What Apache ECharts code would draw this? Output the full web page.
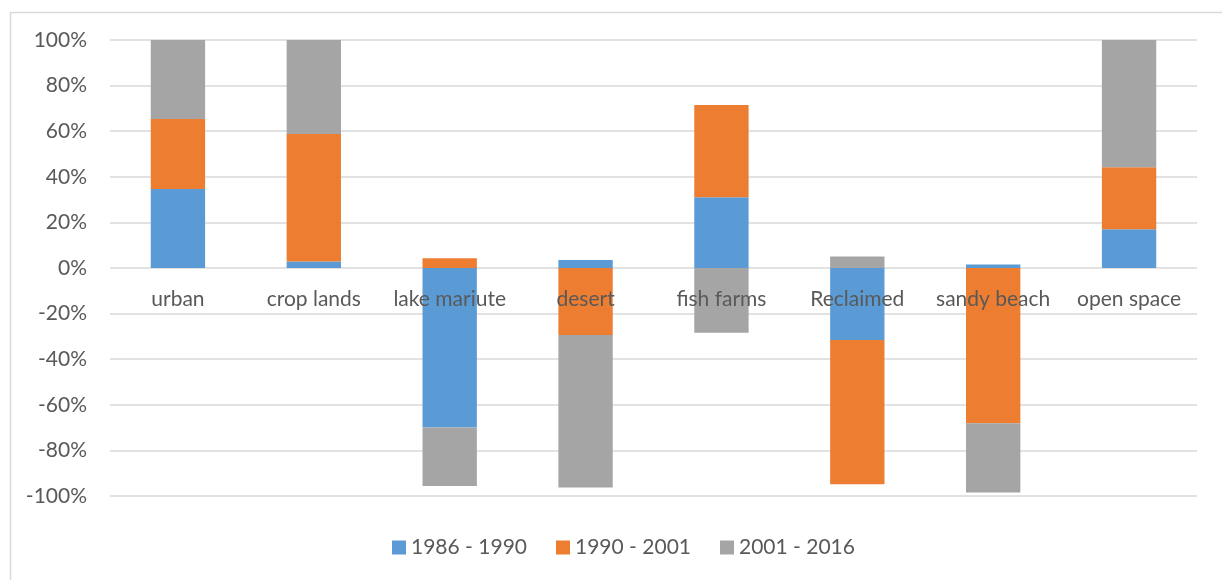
<!DOCTYPE html>
<html>
<head>
<meta charset="utf-8">
<script src="https://cdn.jsdelivr.net/npm/echarts@6/dist/echarts.min.js"></script>
<style>html,body{margin:0;padding:0;background:#fff}#c{width:1222px;height:580px}</style>
</head>
<body>
<div id="c"></div>
<script>
const categories = ['urban', 'crop lands', 'lake mariute', 'desert', 'fish farms', 'Reclaimed', 'sandy beach', 'open space'];
const seriesNames = ['1986 - 1990', '1990 - 2001', '2001 - 2016'];
const s1986_1990 = [34.6, 2.8, -70.0, 3.5, 31.0, -31.6, 1.5, 17.0];
const s1990_2001 = [30.8, 56.0, 4.3, -29.4, 40.5, -63.3, -68.1, 27.2];
const s2001_2016 = [34.6, 41.2, -25.6, -66.9, -28.4, 5.0, -30.4, 55.8];
const yTicks = [-100, -80, -60, -40, -20, 0, 20, 40, 60, 80, 100];

const colors = ['#5B9BD5', '#ED7D31', '#A5A5A5'];
const font = 'Lato, "Open Sans", sans-serif';
const txt = '#595959';
const chart = echarts.init(document.getElementById('c'), null, {renderer: 'canvas'});
const mk = (name, data, i) => ({
  name: name, type: 'bar', stack: 'total', data: data, barWidth: '40%', z: 2,
  itemStyle: {color: colors[i]}, emphasis: {disabled: true}
});
chart.setOption({
  animation: false,
  color: colors,
  graphic: [{type: 'rect', left: 8, top: 10, shape: {width: 1400, height: 800},
    style: {fill: 'none', stroke: '#d9d9d9', lineWidth: 1.5}, z: -10}],
  grid: {left: 110, right: 25, top: 40, bottom: 84},
  legend: {
    data: seriesNames, left: 392, top: 537, padding: 0, itemWidth: 14, itemHeight: 14, itemGap: 29,
    icon: 'rect', textStyle: {color: txt, fontSize: 21, fontFamily: font}
  },
  xAxis: {
    type: 'category', data: categories, position: 'bottom', offset: -228, z: 10,
    axisLine: {show: false, onZero: false}, axisTick: {show: false},
    axisLabel: {color: txt, fontSize: 21, fontFamily: font, margin: 21, interval: 0}
  },
  yAxis: {
    type: 'value', min: yTicks[0], max: yTicks[yTicks.length - 1], interval: 20, z: 0,
    axisLine: {show: false}, axisTick: {show: false},
    splitLine: {lineStyle: {color: '#d9d9d9', width: 1.5}},
    axisLabel: {color: txt, fontSize: 21, fontFamily: font, margin: 23, formatter: v => v + '%'}
  },
  series: [mk(seriesNames[0], s1986_1990, 0), mk(seriesNames[1], s1990_2001, 1), mk(seriesNames[2], s2001_2016, 2)]
});
</script>
</body>
</html>
